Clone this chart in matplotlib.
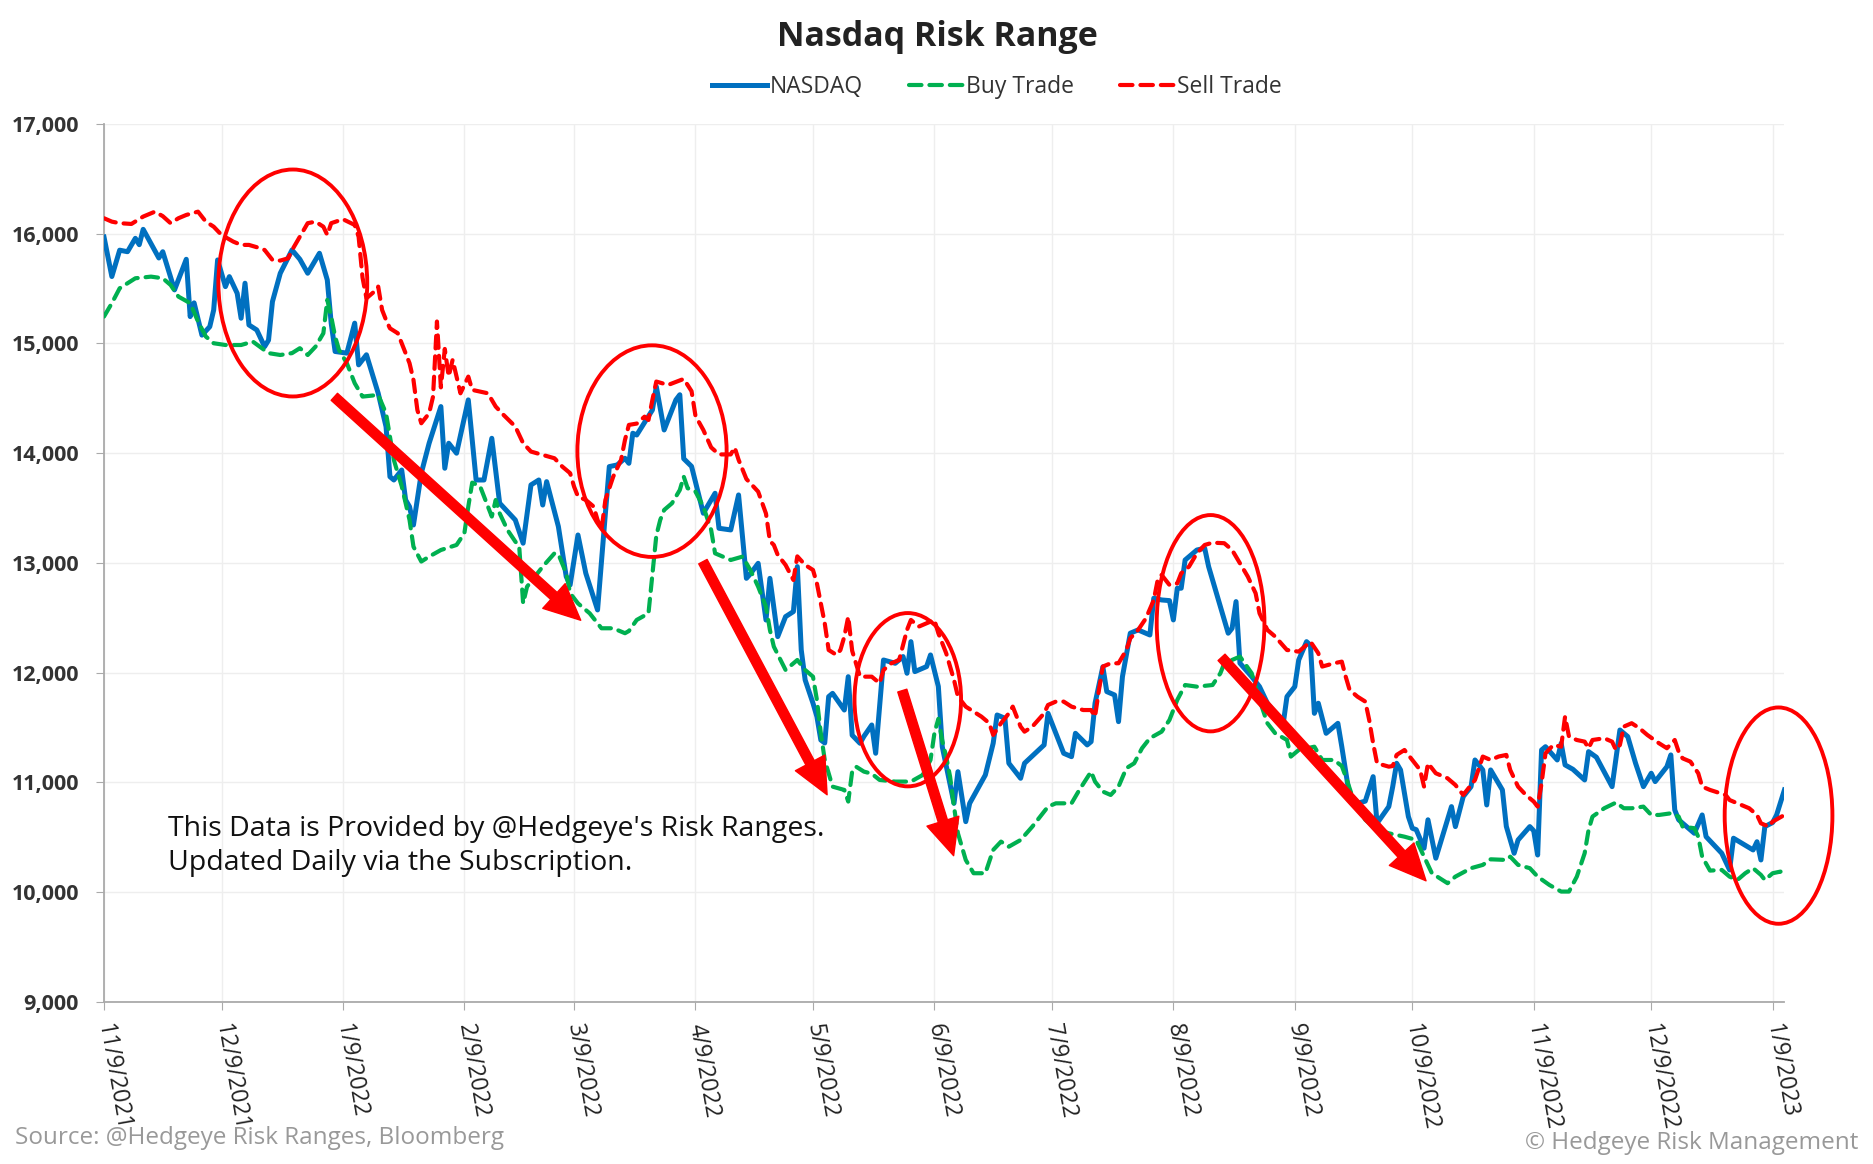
import numpy as np
import matplotlib
matplotlib.use("Agg")
import matplotlib.pyplot as plt
import matplotlib.dates as mdates
from matplotlib.patches import Ellipse

plt.rcParams['font.family'] = ['Open Sans', 'DejaVu Sans']

# days counted from 11/9/2021
nasdaq_days = [0, 2, 4, 6, 8, 9, 10, 14, 15, 18, 21, 22, 23, 25, 27, 28, 29, 31, 32, 34,
               35, 36, 37, 39, 41, 42, 43, 45, 48, 50, 52, 55, 57, 58, 59, 62, 64, 65, 67, 70,
               72, 73, 74, 76, 77, 78, 79, 81, 83, 86, 87, 88, 90, 93, 95, 97, 99, 101, 105, 107,
               109, 111, 112, 113, 116, 118, 119, 121, 123, 126, 128, 129, 131, 133, 134, 135, 136, 140, 141, 143,
               146, 147, 148, 150, 153, 156, 157, 160, 162, 164, 165, 167, 169, 170, 172, 174, 176, 177, 178, 179,
               181, 182, 183, 184, 185, 186, 189, 190, 191, 193, 194, 196, 197, 199, 202, 204, 205, 206, 207, 210,
               211, 213, 214, 217, 218, 220, 221, 225, 227, 228, 230, 231, 234, 235, 240, 241, 245, 247, 248, 251,
               252, 253, 255, 256, 258, 259, 260, 262, 264, 267, 268, 270, 272, 273, 274, 275, 276, 279, 281, 282,
               284, 287, 288, 289, 290, 293, 295, 297, 301, 302, 304, 305, 307, 308, 309, 310, 312, 315, 316, 318,
               320, 322, 324, 325, 328, 329, 330, 331, 333, 334, 335, 337, 338, 340, 344, 345, 347, 349, 350, 352,
               353, 354, 357, 358, 360, 361, 364, 365, 366, 367, 368, 371, 372, 373, 375, 378, 379, 381, 385, 387,
               389, 391, 393, 395, 396, 399, 400, 401, 402, 406, 408, 409, 413, 415, 416, 421, 422, 423, 424, 426,
               427, 429]
nasdaq_vals = [15970, 15610, 15850, 15836, 15958, 15900, 16040, 15779, 15836, 15488, 15767, 15245, 15370, 15076, 15153, 15305, 15761, 15518, 15609, 15457,
               15230, 15549, 15169, 15123, 14971, 15030, 15381, 15640, 15852, 15767, 15640, 15822, 15579, 15185, 14927, 14912, 15185, 14805, 14897, 14546,
               14242, 13786, 13756, 13847, 13574, 13513, 13346, 13818, 14091, 14425, 13863, 14091, 14000, 14486, 13756, 13756, 14136, 13545, 13392, 13180,
               13711, 13756, 13528, 13741, 13332, 12876, 12800, 13255, 12906, 12572, 13453, 13878, 13893, 13954, 13908, 14182, 14166, 14394, 14607, 14212,
               14486, 14533, 13950, 13880, 13453, 13635, 13316, 13301, 13620, 12860, 12900, 12997, 12480, 12860, 12329, 12511, 12557, 12967, 12208, 11934,
               11722, 11600, 11387, 11360, 11782, 11812, 11660, 11964, 11431, 11357, 11420, 11524, 11266, 12116, 12086, 12147, 11995, 12283, 12010, 12056,
               12162, 11875, 11326, 10810, 11098, 10643, 10810, 11068, 11357, 11615, 11585, 11175, 11038, 11175, 11342, 11630, 11266, 11235, 11448, 11342,
               11372, 11721, 12054, 11828, 11797, 11554, 11964, 12360, 12390, 12344, 12679, 12663, 12657, 12481, 12770, 12770, 13027, 13118, 13134, 12967,
               12724, 12360, 12405, 12648, 12087, 11964, 11873, 11722, 11524, 11782, 11873, 12116, 12283, 12250, 11630, 11722, 11448, 11539, 11326, 10871,
               10810, 10830, 11053, 10628, 10780, 10962, 11175, 11114, 10689, 10583, 10570, 10401, 10660, 10310, 10780, 10598, 10871, 10962, 11205, 11114,
               10795, 11114, 10932, 10600, 10355, 10476, 10598, 10560, 10339, 11296, 11326, 11205, 11357, 11160, 11120, 11023, 11281, 11230, 10962, 11478,
               11418, 11175, 10962, 11084, 11008, 11144, 11251, 10750, 10660, 10537, 10704, 10506, 10355, 10203, 10492, 10385, 10460, 10294, 10598, 10635,
               10704, 10932]

buy_days = [0, 2, 4, 8, 12, 15, 17, 19, 22, 24, 26, 28, 31, 35, 38, 42, 45, 48, 50, 52,
            54, 56, 57, 58, 59, 60, 62, 64, 66, 70, 72, 73, 74, 75, 76, 78, 79, 81, 83, 86,
            90, 92, 93, 94, 96, 98, 99, 100, 101, 103, 105, 106, 107, 108, 110, 112, 115, 116, 118, 119,
            121, 124, 127, 130, 133, 134, 136, 139, 140, 141, 142, 143, 145, 147, 148, 149, 151, 153, 155, 156,
            160, 163, 165, 167, 169, 170, 171, 174, 177, 179, 181, 182, 183, 184, 186, 189, 190, 191, 192, 194,
            196, 198, 202, 206, 209, 211, 212, 213, 214, 215, 216, 217, 218, 220, 222, 225, 227, 229, 231, 234,
            237, 241, 243, 247, 249, 252, 253, 255, 257, 259, 261, 263, 265, 267, 270, 272, 274, 276, 279, 283,
            285, 286, 287, 290, 293, 295, 297, 299, 302, 303, 305, 309, 311, 314, 316, 317, 319, 322, 325, 328,
            332, 335, 337, 339, 343, 345, 349, 352, 354, 358, 359, 361, 364, 366, 369, 372, 374, 376, 378, 379,
            380, 383, 386, 388, 390, 393, 395, 397, 400, 402, 403, 406, 407, 408, 410, 413, 415, 417, 419, 421,
            423, 424, 426, 428, 429]
buy_vals = [15245, 15367, 15503, 15594, 15609, 15594, 15533, 15427, 15367, 15200, 15063, 15002, 14986, 14986, 15017, 14912, 14895, 14912, 14957, 14895,
            14971, 15093, 15397, 15245, 15063, 14941, 14820, 14638, 14516, 14531, 14364, 14152, 13938, 13818, 13700, 13392, 13149, 13013, 13058, 13118,
            13164, 13271, 13514, 13732, 13700, 13514, 13423, 13574, 13453, 13301, 13195, 13150, 12632, 12784, 12876, 12967, 13088, 13080, 12906, 12724,
            12632, 12541, 12405, 12405, 12360, 12380, 12481, 12541, 12900, 13250, 13392, 13483, 13544, 13665, 13787, 13681, 13650, 13514, 13301, 13088,
            13027, 13058, 12936, 12784, 12601, 12390, 12238, 12025, 12116, 12025, 11964, 11752, 11448, 11205, 10962, 10932, 10826, 11100, 11144, 11099,
            11080, 11023, 11008, 11008, 11068, 11205, 11448, 11580, 11380, 11236, 11053, 10780, 10537, 10294, 10173, 10173, 10385, 10461, 10415, 10476,
            10598, 10780, 10810, 10810, 10932, 11099, 11008, 10917, 10886, 10962, 11130, 11175, 11312, 11403, 11463, 11569, 11752, 11888, 11873, 11888,
            11995, 12086, 12101, 12147, 11995, 11752, 11540, 11448, 11387, 11236, 11296, 11326, 11205, 11205, 11150, 11053, 10840, 10660, 10568, 10537,
            10506, 10476, 10324, 10173, 10082, 10142, 10219, 10249, 10300, 10294, 10324, 10249, 10219, 10142, 10066, 10006, 10006, 10142, 10355, 10568,
            10689, 10765, 10817, 10765, 10765, 10780, 10704, 10704, 10719, 10689, 10598, 10583, 10506, 10324, 10197, 10203, 10142, 10112, 10173, 10219,
            10158, 10112, 10173, 10188, 10142]

sell_days = [0, 2, 4, 7, 10, 13, 15, 17, 19, 21, 24, 26, 28, 30, 33, 35, 37, 39, 41, 43,
             45, 47, 48, 50, 52, 54, 56, 57, 58, 61, 64, 65, 66, 67, 69, 70, 71, 72, 73, 75,
             76, 78, 79, 80, 81, 83, 84, 85, 86, 87, 88, 89, 90, 91, 93, 94, 96, 98, 100, 102,
             105, 107, 109, 112, 115, 117, 119, 120, 121, 123, 125, 126, 127, 128, 130, 132, 133, 134, 136, 138,
             139, 140, 141, 144, 148, 150, 151, 153, 155, 157, 160, 161, 162, 164, 167, 169, 170, 171, 172, 174,
             176, 177, 179, 181, 182, 184, 185, 187, 188, 189, 190, 191, 193, 196, 198, 199, 201, 203, 205, 206,
             208, 210, 212, 213, 215, 217, 218, 220, 224, 226, 227, 229, 231, 232, 234, 235, 237, 240, 241, 243,
             245, 247, 250, 252, 253, 254, 255, 257, 259, 261, 262, 264, 266, 268, 269, 270, 272, 274, 275, 277,
             279, 281, 283, 286, 288, 290, 292, 294, 295, 297, 299, 302, 305, 308, 310, 311, 314, 316, 317, 318,
             320, 322, 323, 324, 325, 328, 329, 330, 332, 334, 336, 337, 338, 340, 343, 345, 347, 348, 350, 352,
             354, 356, 358, 359, 361, 363, 365, 366, 367, 368, 370, 372, 373, 374, 376, 378, 379, 380, 383, 385,
             386, 387, 388, 390, 392, 394, 397, 399, 401, 402, 403, 405, 407, 408, 410, 414, 415, 418, 420, 422,
             423, 425, 426, 429]
sell_vals = [16141, 16110, 16096, 16089, 16156, 16201, 16160, 16096, 16141, 16171, 16201, 16110, 16064, 15989, 15928, 15898, 15898, 15877, 15852, 15761,
             15755, 15776, 15850, 15973, 16096, 16110, 16064, 15989, 16096, 16132, 16080, 15973, 15600, 15412, 15473, 15518, 15305, 15214, 15138, 15093,
             15002, 14820, 14668, 14394, 14273, 14364, 14516, 15200, 14600, 14950, 14700, 14851, 14698, 14546, 14698, 14577, 14561, 14546, 14425, 14349,
             14243, 14091, 14015, 13985, 13954, 13878, 13818, 13696, 13605, 13574, 13514, 13392, 13301, 13574, 13787, 13939, 14121, 14258, 14270, 14333,
             14303, 14486, 14653, 14622, 14677, 14565, 14340, 14212, 14053, 13989, 13989, 14053, 13941, 13765, 13650, 13450, 13200, 13164, 13073, 12982,
             12845, 13060, 12982, 12936, 12814, 12450, 12207, 12162, 12207, 12329, 12511, 12200, 11964, 11964, 11904, 12025, 12086, 12116, 12390, 12481,
             12420, 12450, 12481, 12360, 12178, 11934, 11782, 11691, 11600, 11540, 11433, 11540, 11630, 11691, 11509, 11463, 11509, 11630, 11706, 11737,
             11737, 11691, 11660, 11660, 11600, 11843, 12056, 12086, 12086, 12207, 12314, 12390, 12496, 12663, 12845, 12891, 12800, 12814, 12906, 12967,
             13088, 13164, 13185, 13180, 13118, 12997, 12876, 12724, 12541, 12390, 12329, 12207, 12192, 12283, 12178, 12056, 12086, 12101, 11964, 11843,
             11782, 11737, 11569, 11357, 11175, 11144, 11150, 11251, 11296, 11205, 11114, 10962, 11175, 11084, 11038, 10977, 10886, 10932, 11023, 11236,
             11205, 11236, 11251, 11114, 10962, 10886, 10826, 10780, 10993, 11266, 11342, 11326, 11600, 11418, 11387, 11372, 11312, 11387, 11403, 11372,
             11296, 11342, 11509, 11540, 11494, 11433, 11357, 11312, 11387, 11281, 11220, 11190, 11084, 10962, 10932, 10886, 10840, 10795, 10765, 10704,
             10628, 10598, 10643, 10704]

tick_labels = ['11/9/2021', '12/9/2021', '1/9/2022', '2/9/2022', '3/9/2022', '4/9/2022', '5/9/2022', '6/9/2022',
               '7/9/2022', '8/9/2022', '9/9/2022', '10/9/2022', '11/9/2022', '12/9/2022', '1/9/2023']
tick_dates = ['2021-11-09', '2021-12-09', '2022-01-09', '2022-02-09', '2022-03-09', '2022-04-09', '2022-05-09',
              '2022-06-09', '2022-07-09', '2022-08-09', '2022-09-09', '2022-10-09', '2022-11-09', '2022-12-09', '2023-01-09']

start = np.datetime64('2021-11-09')


def to_dates(days):
  return start + np.array(days).astype('timedelta64[D]')


def dnum(day):
  return mdates.date2num(start) + day


fig = plt.figure(figsize=(18.74, 11.64), dpi=100)
ax = fig.add_axes([0.0555, 0.1392, 0.8967, 0.7543])

ax.plot(to_dates(nasdaq_days), nasdaq_vals, color='#0070C0', lw=3.6, label='NASDAQ', zorder=3)
ax.plot(to_dates(buy_days), buy_vals, color='#00B050', lw=3.0, dashes=(3, 1.9), dash_capstyle='round',
        label='Buy Trade', zorder=4)
ax.plot(to_dates(sell_days), sell_vals, color='#FF0000', lw=3.0, dashes=(3, 1.9), dash_capstyle='round',
        label='Sell Trade', zorder=5)

ax.set_ylim(9000, 17000)
ax.set_xlim(dnum(0), dnum(429))
ax.set_yticks(range(9000, 17001, 1000))
ax.set_yticklabels([f'{v:,}' for v in range(9000, 17001, 1000)], fontsize=15.5, fontweight='bold', color='#333333')
ax.set_xticks([mdates.date2num(np.datetime64(d)) for d in tick_dates])
ax.set_xticklabels(tick_labels, fontsize=16.5, color='#222222', rotation=-80, rotation_mode='anchor',
                   ha='left', va='center')
ax.tick_params(axis='x', pad=10, length=6, color='#aaaaaa')
ax.tick_params(axis='y', length=6, color='#aaaaaa', pad=12)
ax.grid(True, color='#eeeeee', lw=1)
ax.set_axisbelow(True)
for s in ['top', 'right']:
  ax.spines[s].set_visible(False)
for s in ['left', 'bottom']:
  ax.spines[s].set_color('#aaaaaa')
  ax.spines[s].set_linewidth(1.3)

# red circles
circles = [(48.2, 15551, 38, 2068), (139.9, 14019, 38.1, 1928), (205.2, 11754, 27.2, 1579),
           (282.5, 12451, 27.5, 1971), (427.5, 10698, 27.5, 1971)]
for cx, cy, w, h in circles:
  e = Ellipse((dnum(cx), cy), w, h, fill=False, ec='red', lw=2.8, zorder=6, clip_on=False)
  ax.add_patch(e)

# red arrows
arrows = [((58.8, 14514), (121.7, 12478)), ((152.9, 13012), (184.6, 10888)),
          ((203.8, 11837), (216.9, 10333)), ((285.3, 12140), (337.5, 10104))]
for (x0, y0), (x1, y1) in arrows:
  ax.annotate('', xy=(dnum(x1), y1), xytext=(dnum(x0), y0),
              arrowprops=dict(arrowstyle='simple,head_width=1.2,head_length=1.3,tail_width=0.34',
                              color='red', shrinkA=0, shrinkB=0, mutation_scale=20), zorder=7)

fig.text(0.0899, 0.300, "This Data is Provided by @Hedgeye's Risk Ranges.\nUpdated Daily via the Subscription.",
         fontsize=20.5, color='#111111', va='top', ha='left', linespacing=1.3)

fig.text(0.5, 0.968, 'Nasdaq Risk Range', fontsize=24.5, fontweight='bold', color='#222222', ha='center', va='center')
fig.legend(loc='center', bbox_to_anchor=(0.532, 0.925), ncol=3, frameon=False, fontsize=16.5,
           handlelength=2.4, handletextpad=0.1, columnspacing=2.0, labelcolor='#333333')

fig.text(0.008, 0.0223, 'Source: @Hedgeye Risk Ranges, Bloomberg', fontsize=17.5, color='#999999', ha='left', va='center')
fig.text(0.9915, 0.018, '\u00a9 Hedgeye Risk Management', fontsize=17.5, color='#999999', ha='right', va='center')

fig.savefig('out.png', dpi=100)
